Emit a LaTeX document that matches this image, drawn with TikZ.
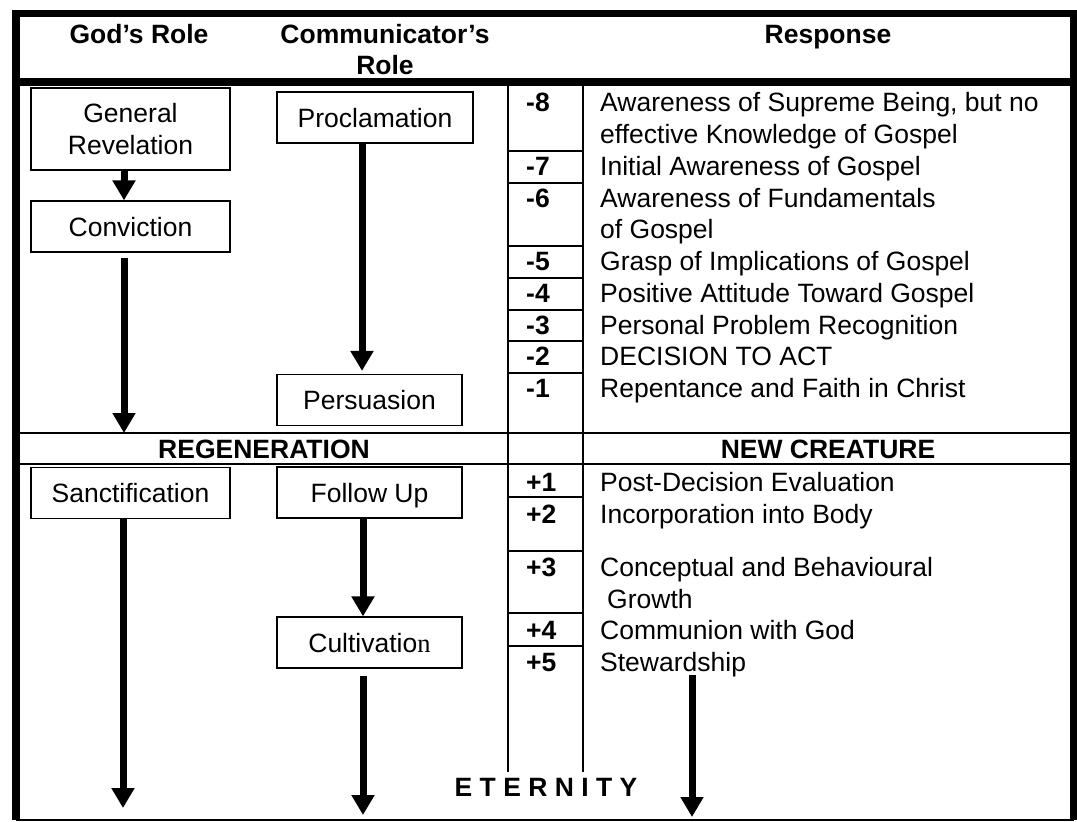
\documentclass[tikz,border=0pt]{standalone}
\usepackage{fontspec}
\setmainfont{Liberation Sans}
\newfontfamily\serifn{Liberation Serif}
\usetikzlibrary{arrows.meta}

\tikzset{
    stagebox/.style={draw, line width=1.2pt, minimum width=199pt, minimum height=51pt, inner sep=0pt, text depth=0pt, align=center},
    bigarrow/.style={line width=7pt, -{Triangle[width=22pt,length=20pt]}},
    headtext/.style={font=\bfseries, anchor=base, inner sep=0pt},
    numtext/.style={font=\bfseries, anchor=base west, inner sep=0pt},
    rowtext/.style={anchor=base west, inner sep=0pt},
    thinrule/.style={line width=2pt},
    thickrule/.style={line width=7.5pt}
}

\begin{document}
\fontsize{26.5pt}{31.75pt}\selectfont
\begin{tikzpicture}[x=1pt, y=-1pt]
    \useasboundingbox (0,0) rectangle (1077,822);

    % Table frame
    \draw[thickrule] (16,820) -- (16,13.5) -- (1074,13.5) -- (1074,820);
    \draw[thickrule] (16,82) -- (1074,82);
    \draw[line width=1.5pt] (16,820) -- (1074,820);
    \draw[thinrule] (16,433) -- (1074,433);
    \draw[thinrule] (16,464) -- (1074,464);
    \draw[thinrule] (508,86) -- (508,772);
    \draw[thinrule] (583,86) -- (583,772);
    \draw[thinrule] (508,150.75) -- (583,150.75) (508,182.5) -- (583,182.5)
        (508,246) -- (583,246) (508,277.75) -- (583,277.75)
        (508,309.5) -- (583,309.5) (508,341.25) -- (583,341.25)
        (508,373) -- (583,373);
    \draw[thinrule] (508,497) -- (583,497) (508,551) -- (583,551)
        (508,613) -- (583,613) (508,646) -- (583,646);

    % Headings
    \node[headtext] (godhead) at (139,43.5) {God’s Role};
    \node[headtext] (comhead) at (385,43.5) {Communicator’s};
    \node[headtext] (comheadb) at (385,74.5) {Role};
    \node[headtext] (resphead) at (828,43.5) {Response};
    \node[headtext] (regen) at (264,458) {REGENERATION};
    \node[headtext] (newcr) at (828,458) {NEW CREATURE};
    \node[headtext] (eternity) at (546,796.5) {E T E R N I T Y};

    % Draw boxes
    \node[stagebox, minimum height=82pt] (genrev) at (130.5,129) {General\\Revelation};
    \node[stagebox] (conv) at (130.5,226.5) {Conviction};
    \node[stagebox, minimum width=196pt] (procl) at (375,117.5) {Proclamation};
    \node[stagebox, minimum width=185pt] (persu) at (369.5,400) {Persuasion};
    \node[stagebox] (sanct) at (130.5,493) {Sanctification};
    \node[stagebox, minimum width=185pt] (follow) at (369.5,492.5) {Follow Up};
    \node[stagebox, minimum width=185pt] (cultiv) at (369.5,642.5) {Cultivatio{\serifn n}};

    % Draw arrows
    \coordinate (convend) at (124,433);
    \coordinate (sanctend) at (123,808);
    \coordinate (cultivend) at (363,815);
    \coordinate (stewtop) at (692,675);
    \coordinate (stewend) at (692,817);
    \draw[bigarrow] ([xshift=-6.5]genrev.south) -- ([xshift=-6.5]conv.north);
    \draw[bigarrow, shorten <=5pt] ([xshift=-6.5]conv.south) -- (convend);
    \draw[bigarrow, shorten >=3pt] ([xshift=-13]procl.south) -- ([xshift=-7.5]persu.north);
    \draw[bigarrow] ([xshift=-7.5]sanct.south) -- (sanctend);
    \draw[bigarrow] ([xshift=-6.5]follow.south) -- ([xshift=-6.5]cultiv.north);
    \draw[bigarrow, shorten <=7pt] ([xshift=-6.5]cultiv.south) -- (cultivend);
    \draw[bigarrow] (stewtop) -- (stewend);

    % Stages before regeneration
    \node[numtext] (n8) at (526,111.5) {-8};
    \node[rowtext] (r8) at (600,111.5) {Awareness of Supreme Being, but no};
    \node[rowtext] (r8b) at (600,143.5) {effective Knowledge of Gospel};
    \node[numtext] (n7) at (526,175) {-7};
    \node[rowtext] (r7) at (600,175) {Initial Awareness of Gospel};
    \node[numtext] (n6) at (526,207) {-6};
    \node[rowtext] (r6) at (600,207) {Awareness of Fundamentals};
    \node[rowtext] (r6b) at (600,238.5) {of Gospel};
    \node[numtext] (n5) at (526,270) {-5};
    \node[rowtext] (r5) at (600,270) {Grasp of Implications of Gospel};
    \node[numtext] (n4) at (526,302) {-4};
    \node[rowtext] (r4) at (600,302) {Positive Attitude Toward Gospel};
    \node[numtext] (n3) at (526,334) {-3};
    \node[rowtext] (r3) at (600,334) {Personal Problem Recognition};
    \node[numtext] (n2) at (526,365.5) {-2};
    \node[rowtext] (r2) at (600,365.5) {DECISION TO ACT};
    \node[numtext] (n1) at (526,397.5) {-1};
    \node[rowtext] (r1) at (600,397.5) {Repentance and Faith in Christ};

    % Stages after regeneration
    \node[numtext] (p1) at (526,491) {+1};
    \node[rowtext] (s1) at (600,491) {Post-Decision Evaluation};
    \node[numtext] (p2) at (526,523) {+2};
    \node[rowtext] (s2) at (600,523) {Incorporation into Body};
    \node[numtext] (p3) at (526,576) {+3};
    \node[rowtext] (s3) at (600,576) {Conceptual and Behavioural};
    \node[rowtext] (s3b) at (607,608) {Growth};
    \node[numtext] (p4) at (526,639.5) {+4};
    \node[rowtext] (s4) at (600,639.5) {Communion with God};
    \node[numtext] (p5) at (526,671) {+5};
    \node[rowtext] (s5) at (600,671) {Stewardship};
\end{tikzpicture}
\end{document}
